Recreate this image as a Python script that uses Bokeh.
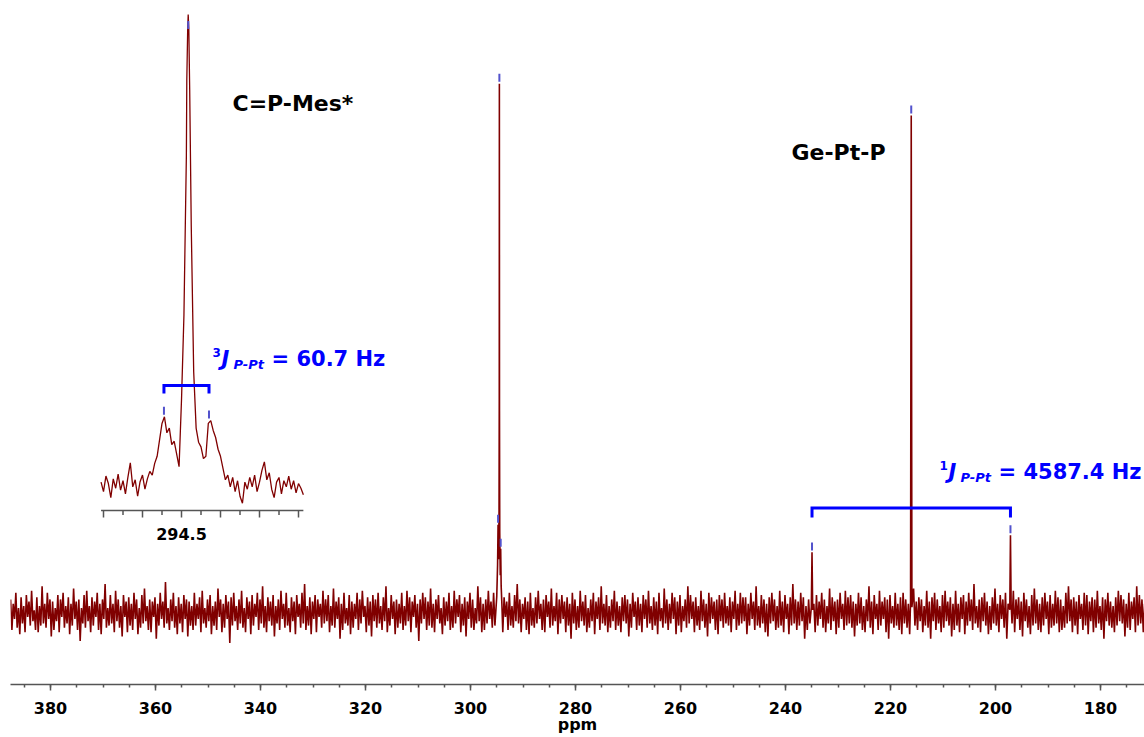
from bokeh.plotting import figure
from bokeh.models import Range1d, FixedTicker
from bokeh.core.properties import value
from bokeh.embed import file_html
from bokeh.resources import INLINE

# ======================= DATA =======================
# Main 31P spectrum: uniformly sampled baseline (start / step in ppm)
main_start_ppm = 387.6
main_step_ppm = 0.25
# baseline noise, in steps of ~0.41 intensity units
main_noise = [
    6, -8, 4, -3, 9, -7, 2, -10, 7, -5, 3, -9, 8, -2, 5, -6, 10, -4, 1, -8,
    7, -9, 3, -6, 12, -5, 4, -7, 9, -3, 6, -11, 5, -8, 2, -4, 8, -9, 6, -2,
    9, -7, 3, -5, 7, -10, 4, -6, 11, -3, 5, -8, 6, -13, 2, -5, 8, -7, 10, -4,
    3, -9, 7, -6, 5, -2, 9, -8, 4, -10, 6, -3, 13, -7, 2, -6, 8, -5, 4, -9,
    10, -4, 6, -7, 3, -11, 8, -2, 5, -9, 7, -6, 4, -8, 9, -3, 6, -10, 2, -7,
    8, -5, 11, -4, 3, -8, 6, -9, 5, -2, 7, -12, 4, -6, 9, -3, 5, -7, 14, -5,
    2, -8, 6, -4, 9, -7, 3, -10, 7, -5, 4, -9, 8, -3, 6, -11, 5, -6, 3, -8,
    9, -6, 4, -3, 7, -9, 10, -5, 2, -7, 6, -4, 8, -10, 3, -6, 5, -8, 11, -2,
    6, -9, 4, -7, 8, -3, 5, -14, 7, -6, 9, -4, 3, -8, 6, -5, 10, -7, 2, -9,
    7, -3, 5, -10, 8, -6, 4, -2, 9, -8, 6, -5, 12, -7, 3, -9, 7, -4, 5, -6,
    8, -11, 3, -5, 6, -8, 10, -3, 4, -7, 9, -6, 2, -9, 7, -4, 5, -10, 8, -2,
    4, -7, 9, -5, 13, -8, 3, -6, 7, -10, 5, -3, 8, -9, 6, -2, 4, -7, 10, -5,
    6, -4, 8, -9, 3, -6, 11, -7, 5, -3, 7, -12, 4, -8, 9, -5, 2, -6, 8, -10,
    5, -7, 4, -3, 9, -8, 6, -5, 10, -2, 3, -9, 7, -6, 5, -11, 8, -4, 6, -7,
    9, -5, 3, -8, 7, -4, 12, -9, 2, -6, 8, -3, 5, -10, 6, -7, 4, -5, 9, -8,
    3, -6, 10, -4, 7, -9, 5, -2, 8, -7, 4, -13, 6, -5, 9, -3, 7, -8, 5, -6,
    11, -7, 4, -9, 6, -3, 8, -5, 2, -10, 7, -6, 5, -4, 9, -8, 3, -7, 10, -5,
    6, -2, 8, -9, 4, -6, 7, -11, 5, -3, 9, -7, 6, -8, 2, -5, 12, -4, 7, -9,
    4, -8, 6, -5, 10, -3, 5, -7, 9, -6, 3, -10, 8, -4, 6, -9, 7, -2, 5, -8,
    9, -6, 3, -7, 8, -4, 13, -5, 6, -9, 4, -3, 7, -8, 5, -10, 9, -6, 2, -7,
    7, -5, 10, -3, 4, -8, 6, -9, 8, -2, 5, -7, 11, -6, 3, -4, 9, -10, 6, -5,
    8, -3, 5, -9, 7, -6, 4, -12, 9, -5, 6, -8, 3, -7, 10, -4, 5, -6, 8, -9,
    2, -7, 6, -4, 9, -10, 5, -3, 7, -8, 12, -5, 4, -6, 8, -9, 3, -7, 6, -4,
    10, -8, 5, -6, 3, -9, 7, -4, 8, -5, 6, -11, 4, -7, 9, -2, 5, -8, 7, -6,
    4, -9, 8, -3, 6, -7, 10, -5, 3, -8, 7, -6, 5, -10, 9, -4, 2, -7, 11, -5,
    6, -8, 4, -5, 9, -3, 7, -10, 5, -6, 8, -9, 3, -4, 6, -7, 12, -5, 8, -3,
    5, -9, 7, -6, 3, -8, 10, -4, 6, -7, 4, -11, 9, -5, 7, -3, 5, -8, 6, -10,
    8, -4, 6, -7, 9, -5, 3, -6, 7, -9, 5, -3, 10, -8, 4, -6, 9, -5, 7, -4,
    7, -10, 4, -6, 9, -3, 5, -8, 12, -6, 3, -7, 8, -5, 6, -9, 4, -11, 7, -5,
    9, -4, 6, -8, 3, -7, 10, -6, 5, -9, 8, -3, 4, -10, 7, -6, 13, -5, 6, -8,
    5, -6, 9, -4, 7, -12, 3, -8, 6, -5, 10, -7, 4, -9, 8, -6, 5, -3, 9, -7,
    6, -9, 3, -5, 11, -8, 7, -4, 5, -10, 6, -7, 9, -3, 4, -8, 10, -6, 7, -5,
    8, -7, 5, -11, 4, -6, 9, -5, 7, -8, 3, -9, 6, -4, 12, -7, 5, -10, 8, -3,
    4, -8, 10, -6, 5, -3, 7, -9, 6, -12, 8, -5, 3, -7, 9, -6, 4, -8, 7, -10,
    9, -5, 6, -7, 4, -10, 8, -3, 11, -6, 5, -8, 7, -4, 6, -9, 3, -6, 10, -7,
    5, -12, 7, -4, 9, -8, 6, -5, 3, -9, 8, -7, 10, -4, 5, -6, 7, -11, 4, -8,
    10, -6, 4, -9, 7, -3, 8, -10, 5, -6, 9, -4, 6, -8, 13, -5, 3, -7, 6, -9,
    7, -4, 9, -6, 5, -10, 3, -8, 7, -5, 11, -6, 4, -9, 8, -3, 6, -7, 9, -12,
    4, -7, 8, -5, 10, -9, 6, -3, 7, -8, 5, -11, 9, -4, 6, -7, 3, -10, 8, -6,
    11, -5, 6, -8, 4, -9, 7, -6, 9, -3, 5, -10, 8, -7, 4, -6, 10, -5, 7, -9,
    6, -8, 3, -7, 9, -5, 12, -4, 6, -9, 7, -6, 5, -10, 8, -3, 4, -8, 9, -6,
    8, -10, 5, -4, 7, -9, 6, -7, 10, -5, 3, -8, 7, -12, 6, -4, 9, -6, 5, -7,
    3, -9, 7, -6, 10, -4, 8, -5, 6, -11, 4, -7, 9, -8, 5, -3, 7, -9, 12, -6,
    8, -5, 6, -9, 4, -7,
]
noise_unit = 0.41

# resonance profile points of the main spectrum (ppm, intensity)
main_peak_ppm = [295.00, 294.84, 294.75, 294.66, 294.56, 294.52, 294.50, 294.48,
                 294.43, 294.33, 294.25, 294.16, 294.02,
                 235.08, 234.95, 234.82,
                 216.18, 216.05, 215.92,
                 197.28, 197.15, 197.02]
main_peak_int = [3.0, 9.0, 16.5, 10.0, 19.0, 40.0, 99.4, 38.0,
                 15.0, 7.0, 12.0, 5.0, 1.5,
                 1.0, 11.3, 0.5,
                 2.0, 93.4, 1.0,
                 0.5, 14.5, 1.5]

# picked peaks (blue markers)
main_pick_ppm = [294.75, 294.50, 294.25, 234.95, 216.05, 197.15]
main_pick_int = [16.5, 99.4, 12.0, 11.3, 93.4, 14.5]

# 1J(P-Pt) satellites
j1_ppm = [234.95, 197.15]

main_major_ticks = [380, 360, 340, 320, 300, 280, 260, 240, 220, 200, 180]
main_minor_step = 5

# Inset: expansion of the 294.5 ppm signal (uniform sampling)
inset_start_ppm = 295.325
inset_step_ppm = 0.025
inset_int = [
    0.5, -1.5, 1.8, 0.2, -2.8, 1.2, -0.8, 2.2, -1.2, 0.8,
    -2.0, 1.5, 4.6, -0.5, 1.0, -2.5, 0.6, 2.0, -1.0, 1.2,
    2.8, 2.0, 4.5, 6.0, 9.5, 13.0, 14.4, 11.0, 12.0, 8.5,
    9.2, 6.5, 3.8, 18.0, 36.0, 70.0, 97.0, 55.0, 24.0, 12.0,
    9.0, 8.0, 5.5, 6.0, 13.0, 13.6, 11.5, 10.0, 7.5, 6.0,
    3.5, 1.0, 2.0, -0.5, 1.5, -1.5, 0.8, -2.5, -4.0, 0.5,
    -1.0, 1.5, -0.5, 2.0, -1.5, 0.5, 3.0, 4.8, 1.0, 2.5,
    -1.0, -2.8, 0.5, 1.5, -2.0, 0.8, -0.5, 1.8, -1.0, 0.8,
    -1.8, 0.2, -0.8, -2.2,
]
inset_apex_ppm = [294.4456, 294.4364, 294.4313, 294.4159]
inset_apex_int = [86.0, 97.0, 100.0, 84.0]
inset_pick_ppm = [294.68, 294.431, 294.218]
inset_pick_int = [14.4, 96.5, 13.6]
j3_ppm = [294.68, 294.218]
inset_ticks = [295.3, 295.1, 294.9, 294.7, 294.5, 294.3, 294.1, 293.9, 293.7, 293.5, 293.3]
inset_major_ticks = [295.3, 294.9, 294.5, 294.1, 293.7, 293.3]
inset_labelled_ticks = [294.5]

label_cpmes = "C=P-Mes*"
label_geptp = "Ge-Pt-P"
j3_value = "= 60.7 Hz"
j1_value = "= 4587.4 Hz"

# ======================= LAYOUT =======================
FONT = value("DejaVu Sans")
RED = "#800000"
BLUE = "#0000ff"
MARK = "#5252cc"
AXC = "#555555"

FW, FH = 1134, 684          # frame size
FL, FT = 10, 0              # frame left/top on the page

# main scales: ppm 380 at x 50, 5.25 px/ppm ; baseline at y 612, 5.32 px/unit
M_PX_PPM, M_X0, M_P0 = 5.25, 50.0, 380.0
M_PPU, M_BASE = 5.32, 612.0
# inset scales: ppm 294.5 at x 181, 97.5 px/ppm ; baseline at y 484, 4.7 px/unit
I_PX_PPM, I_X0, I_P0 = 97.5, 181.0, 294.5
I_PPU, I_BASE = 4.7, 484.0


def mx(px):
    return M_P0 - (px - M_X0) / M_PX_PPM


def my(py):
    return (M_BASE - py) / M_PPU


def ix(px):
    return I_P0 - (px - I_X0) / I_PX_PPM


def iy(py):
    return (I_BASE - py) / I_PPU


p = figure(frame_width=FW, frame_height=FH, output_backend="svg", toolbar_location=None,
           x_range=Range1d(mx(FL), mx(FL + FW)), y_range=Range1d(my(FT + FH), my(FT)),
           y_axis_location=None, min_border_left=FL, min_border_right=0,
           min_border_top=0, min_border_bottom=53)
p.extra_x_ranges = {"ix": Range1d(ix(FL), ix(FL + FW))}
p.extra_y_ranges = {"iy": Range1d(iy(FT + FH), iy(FT))}
p.outline_line_color = None
p.grid.visible = False
p.background_fill_color = "white"
p.border_fill_color = "white"

# ---- main axis ----
ax = p.xaxis[0]
lo, hi = min(main_major_ticks) - 10, max(main_major_ticks) + 10
ax.ticker = FixedTicker(ticks=main_major_ticks,
                        minor_ticks=list(range(lo, hi + 1, main_minor_step)))
ax.axis_line_color = AXC
ax.axis_line_width = 1.5
ax.major_tick_line_color = AXC
ax.major_tick_line_width = 1.5
ax.minor_tick_line_color = AXC
ax.minor_tick_line_width = 1.5
ax.major_tick_in = 0
ax.major_tick_out = 6
ax.minor_tick_in = 0
ax.minor_tick_out = 3
ax.major_label_standoff = 11
ax.major_label_text_font = "DejaVu Sans"
ax.major_label_text_font_style = "bold"
ax.major_label_text_font_size = "16px"
ax.major_label_text_color = "black"
ax.axis_label = "ppm"
ax.axis_label_text_font = "DejaVu Sans"
ax.axis_label_text_font_style = "bold"
ax.axis_label_text_font_size = "16px"
ax.axis_label_text_color = "black"
ax.axis_label_standoff = -2

# ---- main spectrum ----
pts = []
for i, v in enumerate(main_noise):
    x = main_start_ppm - main_step_ppm * i
    if min(abs(x - s) for s in main_peak_ppm) > 0.15:
        pts.append((x, v * noise_unit))
pts += list(zip(main_peak_ppm, main_peak_int))
pts.sort(key=lambda t: -t[0])
p.line([t[0] for t in pts], [t[1] for t in pts], line_color=RED, line_width=1.6)

gap, mlen = 2 / M_PPU, 8 / M_PPU
p.segment(x0=main_pick_ppm, y0=[h + gap for h in main_pick_int],
          x1=main_pick_ppm, y1=[h + gap + mlen for h in main_pick_int],
          line_color=MARK, line_width=2)

# 1J bracket
yb, ye = my(507.5), my(517)
p.line([j1_ppm[0], j1_ppm[0], j1_ppm[1], j1_ppm[1]], [ye, yb, yb, ye],
       line_color=BLUE, line_width=3, line_join="miter")

# ---- inset spectrum ----
ipts = [(inset_start_ppm - inset_step_ppm * i, v) for i, v in enumerate(inset_int)]
ipts += list(zip(inset_apex_ppm, inset_apex_int))
ipts.sort(key=lambda t: -t[0])
p.line([t[0] for t in ipts], [t[1] for t in ipts], line_color=RED, line_width=1.3,
       x_range_name="ix", y_range_name="iy")

igap, ilen = 2 / I_PPU, 8 / I_PPU
p.segment(x0=inset_pick_ppm, y0=[h + igap for h in inset_pick_int],
          x1=inset_pick_ppm, y1=[h + igap + ilen for h in inset_pick_int],
          line_color=MARK, line_width=2, x_range_name="ix", y_range_name="iy")

yb, ye = iy(385), iy(393)
p.line([j3_ppm[0], j3_ppm[0], j3_ppm[1], j3_ppm[1]], [ye, yb, yb, ye],
       line_color=BLUE, line_width=3, line_join="miter",
       x_range_name="ix", y_range_name="iy")

# inset axis (drawn inside the frame)
iax = iy(510)
x_first = inset_start_ppm
x_last = inset_start_ppm - inset_step_ppm * (len(inset_int) - 1)
p.line([x_first, x_last], [iax, iax], line_color=AXC, line_width=1.5,
       x_range_name="ix", y_range_name="iy")
p.segment(x0=inset_ticks, y0=[iax] * len(inset_ticks), x1=inset_ticks,
          y1=[iax - (7 if t in inset_major_ticks else 4.5) / I_PPU for t in inset_ticks],
          line_color=AXC, line_width=1.5, x_range_name="ix", y_range_name="iy")
p.text(x=inset_labelled_ticks, y=[iax] * len(inset_labelled_ticks),
       text=[f"{t:.1f}" for t in inset_labelled_ticks], y_offset=23,
       text_font=FONT, text_font_style="bold", text_font_size="16px",
       text_color="black", text_align="center", text_baseline="middle",
       x_range_name="ix", y_range_name="iy")


# ---- texts ----
def txt(x, y, s, size, style, color, align="left", xo=0, yo=0, xr="default", yr="default"):
    p.text(x=[x], y=[y], text=[s], text_font=FONT, text_font_size=f"{size}px",
           text_font_style=style, text_color=color, text_align=align,
           text_baseline="middle", x_offset=xo, y_offset=yo,
           x_range_name=xr, y_range_name=yr)


txt(mx(232), my(103), label_cpmes, 22, "bold", "black")
txt(mx(885), my(152), label_geptp, 22, "bold", "black", align="right")


def jlabel(x, y, sup, val, xr="default", yr="default"):
    txt(x, y, sup, 12, "bold", BLUE, xo=0, yo=-6, xr=xr, yr=yr)
    txt(x, y, "J", 21, "bold italic", BLUE, xo=9, yo=0, xr=xr, yr=yr)
    txt(x, y, "P-Pt", 13, "bold italic", BLUE, xo=21, yo=6, xr=xr, yr=yr)
    txt(x, y, val, 21, "bold", BLUE, xo=59, yo=0, xr=xr, yr=yr)


jlabel(ix(212), iy(358), "3", j3_value, xr="ix", yr="iy")
jlabel(mx(939), my(471), "1", j1_value)

open("out.html", "w").write(file_html(p, INLINE))
